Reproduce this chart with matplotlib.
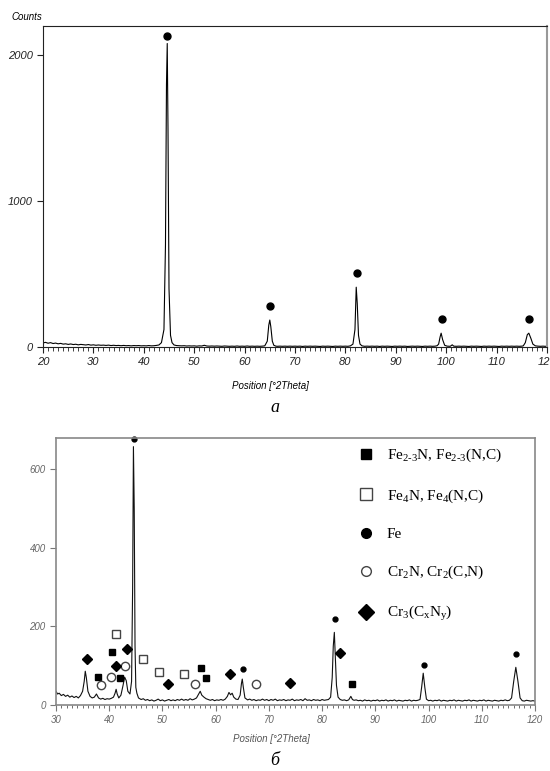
import matplotlib
matplotlib.use("Agg")
import matplotlib.pyplot as plt
from matplotlib.ticker import MultipleLocator, FixedLocator
from matplotlib.lines import Line2D

plt.rcParams["mathtext.fontset"] = "custom"
plt.rcParams["mathtext.rm"] = "Liberation Serif"
plt.rcParams["mathtext.it"] = "Liberation Serif:italic"

# ---------- data: panel a (Counts vs 2Theta) ----------
top_x = [20.0, 20.5, 21, 21.5, 22, 22.5, 23, 23.5, 24, 24.5, 25, 25.5, 26, 26.5, 27, 27.5, 28, 28.5, 29, 29.5,
         30, 30.5, 31, 31.5, 32, 32.5, 33, 33.5, 34, 34.5, 35, 35.5, 36, 36.5, 37, 37.5, 38, 38.5, 39, 39.5,
         40, 40.5, 41, 41.5, 42, 42.5, 43, 43.5, 44, 44.3, 44.5, 44.65, 44.8, 45, 45.3, 45.6, 46, 46.5, 47, 47.5,
         48, 48.5, 49, 49.5, 50, 50.5, 51, 51.5, 52, 52.5, 53, 53.5, 54, 54.5, 55, 55.5, 56, 56.5, 57, 57.5,
         58, 58.5, 59, 59.5, 60, 60.5, 61, 61.5, 62, 62.5, 63, 63.5, 64, 64.5, 64.8, 65.0, 65.2, 65.5, 65.8, 66.2,
         66.5, 67, 67.5, 68, 68.5, 69, 69.5, 70, 70.5, 71, 71.5, 72, 72.5, 73, 73.5, 74, 74.5, 75, 75.5, 76,
         76.5, 77, 77.5, 78, 78.5, 79, 79.5, 80, 80.5, 81, 81.5, 81.9, 82.15, 82.35, 82.6, 82.9, 83.3, 83.8, 84.3, 84.8,
         85.3, 85.8, 86.3, 86.8, 87.3, 87.8, 88.3, 88.8, 89.3, 89.8, 90.3, 90.8, 91.3, 91.8, 92.3, 92.8, 93.3, 93.8, 94.3, 94.8,
         95.3, 95.8, 96.3, 96.8, 97.3, 97.8, 98.2, 98.5, 98.8, 99.0, 99.3, 99.7, 100.2, 100.8, 101.2, 101.5, 102, 102.5, 103, 103.5,
         104, 104.5, 105, 105.5, 106, 106.5, 107, 107.5, 108, 108.5, 109, 109.5, 110, 110.5, 111, 111.5, 112, 112.5, 113, 113.5,
         114, 114.5, 115, 115.3, 115.7, 116.1, 116.4, 116.8, 117.2, 117.7, 118.2, 118.7, 119.2, 119.6, 120]
top_y = [28, 32, 26, 30, 24, 27, 22, 25, 20, 22, 18, 21, 17, 19, 15, 18, 16, 14, 17, 13,
         15, 12, 14, 12, 13, 11, 13, 10, 12, 10, 11, 9, 11, 9, 10, 8, 10, 9, 10, 8,
         9, 8, 10, 8, 9, 11, 14, 30, 120, 700, 1800, 2080, 1500, 400, 80, 30, 14, 10, 9, 8,
         9, 7, 8, 7, 8, 6, 8, 7, 12, 7, 6, 7, 6, 7, 6, 5, 7, 6, 5, 6,
         5, 7, 5, 6, 5, 7, 5, 6, 5, 6, 5, 6, 8, 40, 150, 185, 140, 40, 12, 6,
         5, 6, 5, 6, 5, 6, 5, 6, 5, 6, 4, 6, 5, 6, 5, 6, 5, 4, 6, 5,
         6, 5, 4, 6, 5, 6, 5, 6, 5, 8, 20, 120, 410, 300, 80, 20, 8, 5, 6, 5,
         6, 5, 6, 4, 6, 5, 6, 5, 4, 6, 5, 6, 5, 6, 4, 5, 6, 5, 6, 5,
         4, 6, 5, 6, 5, 6, 9, 20, 70, 95, 50, 12, 6, 5, 15, 6, 5, 6, 5, 6,
         5, 4, 6, 5, 6, 5, 4, 6, 5, 6, 5, 6, 5, 4, 6, 5, 6, 5, 6, 5,
         6, 5, 6, 8, 30, 85, 95, 60, 20, 8, 6, 5, 6, 5, 5]
top_fe_x = [44.6, 65.0, 82.3, 99.1, 116.4]
top_fe_y = [2130, 280, 505, 190, 190]

# ---------- data: panel b ----------
bot_x = [30.0, 30.3, 30.6, 31, 31.4, 31.8, 32.2, 32.6, 33, 33.4, 33.8, 34.2, 34.6, 35.0, 35.3, 35.5, 35.7, 36.0, 36.4, 36.8,
         37.2, 37.6, 38.0, 38.4, 38.8, 39.2, 39.6, 40.0, 40.4, 40.8, 41.1, 41.3, 41.5, 41.8, 42.2, 42.6, 42.9, 43.2, 43.5, 43.9,
         44.2, 44.4, 44.55, 44.7, 44.85, 45.0, 45.2, 45.5, 46.0, 46.4, 46.8, 47.2, 47.6, 48, 48.4, 48.8, 49.2, 49.6, 50, 50.4,
         50.8, 51.2, 51.6, 52, 52.4, 52.8, 53.2, 53.6, 54, 54.4, 54.8, 55.2, 55.6, 56, 56.4, 56.8, 57.1, 57.4, 57.8, 58.2,
         58.6, 59, 59.4, 59.8, 60.2, 60.6, 61, 61.4, 61.8, 62.2, 62.5, 62.8, 63.1, 63.4, 63.8, 64.2, 64.6, 64.85, 65.0, 65.2,
         65.5, 66, 66.4, 66.8, 67.2, 67.6, 68, 68.4, 68.8, 69.2, 69.6, 70, 70.4, 70.8, 71.2, 71.6, 72, 72.4, 72.8, 73.2,
         73.6, 74, 74.4, 74.8, 75.2, 75.6, 76, 76.4, 76.8, 77.2, 77.6, 78, 78.4, 78.8, 79.2, 79.6, 80, 80.4, 80.8, 81.2,
         81.6, 81.9, 82.1, 82.3, 82.5, 82.7, 83, 83.4, 83.8, 84.2, 84.6, 85, 85.4, 85.7, 86, 86.4, 86.8, 87.2, 87.6, 88,
         88.4, 88.8, 89.2, 89.6, 90, 90.4, 90.8, 91.2, 91.6, 92, 92.4, 92.8, 93.2, 93.6, 94, 94.4, 94.8, 95.2, 95.6, 96,
         96.4, 96.8, 97.2, 97.6, 98, 98.4, 98.7, 99.0, 99.3, 99.6, 100, 100.4, 100.8, 101.2, 101.6, 102, 102.4, 102.8, 103.2, 103.6,
         104, 104.4, 104.8, 105.2, 105.6, 106, 106.4, 106.8, 107.2, 107.6, 108, 108.4, 108.8, 109.2, 109.6, 110, 110.4, 110.8, 111.2, 111.6,
         112, 112.4, 112.8, 113.2, 113.6, 114, 114.4, 114.8, 115.2, 115.6, 116.0, 116.4, 116.8, 117.2, 117.6, 118, 118.4, 118.8, 119.2, 119.6,
         120]
bot_y = [35, 28, 30, 24, 27, 22, 25, 20, 23, 19, 22, 18, 24, 35, 60, 86, 70, 35, 22, 18,
         20, 28, 18, 15, 17, 14, 16, 15, 17, 20, 30, 40, 28, 18, 25, 50, 71, 62, 35, 28,
         60, 300, 658, 500, 150, 45, 30, 18, 14, 16, 12, 14, 11, 13, 10, 12, 15, 11, 13, 10,
         12, 14, 11, 13, 11, 14, 12, 15, 12, 14, 12, 16, 13, 15, 18, 28, 35, 25, 20, 16,
         14, 12, 14, 11, 13, 12, 14, 12, 15, 22, 32, 26, 30, 20, 15, 14, 25, 55, 66, 45,
         18, 13, 15, 12, 14, 11, 13, 12, 15, 12, 14, 11, 14, 12, 15, 11, 13, 12, 14, 11,
         13, 12, 15, 11, 13, 12, 14, 11, 16, 12, 13, 11, 14, 12, 13, 11, 14, 12, 13, 14,
         20, 70, 150, 185, 120, 50, 20, 14, 12, 13, 11, 13, 22, 14, 12, 13, 11, 12, 10, 13,
         11, 12, 10, 12, 11, 13, 10, 12, 11, 13, 10, 12, 11, 13, 10, 12, 11, 10, 12, 11,
         13, 10, 12, 11, 12, 14, 45, 81, 45, 15, 11, 12, 10, 12, 11, 13, 10, 12, 11, 10,
         12, 11, 13, 10, 12, 11, 10, 12, 11, 13, 10, 12, 11, 10, 12, 11, 13, 10, 12, 11,
         10, 12, 11, 10, 12, 11, 13, 11, 12, 18, 60, 96, 60, 18, 11, 10, 12, 11, 10, 11,
         10]

# phase markers (2Theta, height on chart)
fe23_x = [37.8, 40.5, 42.0, 57.3, 58.1, 85.7]
fe23_y = [72, 136, 68, 95, 69, 53]
fe4_x = [41.3, 46.4, 49.3, 54.1]
fe4_y = [180, 117, 85, 79]
fe_x = [44.6, 65.2, 82.5, 99.1, 116.5]
fe_y = [678, 92, 219, 103, 131]
cr2_x = [38.4, 40.3, 42.9, 56.1, 67.5]
cr2_y = [51, 72, 100, 53, 54]
cr3_x = [35.9, 41.2, 43.3, 51.0, 62.7, 74.0, 83.4]
cr3_y = [116, 99, 142, 54, 80, 56, 132]

legend_labels = [r"Fe$_{\mathrm{2\text{-}3}}$N, Fe$_{\mathrm{2\text{-}3}}$(N,C)",
                 r"Fe$_{\mathrm{4}}$N, Fe$_{\mathrm{4}}$(N,C)",
                 "Fe",
                 r"Cr$_{\mathrm{2}}$N, Cr$_{\mathrm{2}}$(C,N)",
                 r"Cr$_{\mathrm{3}}$(C$_{\mathrm{x}}$N$_{\mathrm{y}}$)"]

tick_font = dict(family="Liberation Sans", style="italic")

fig = plt.figure(figsize=(5.5, 7.71), dpi=100)

# ---------- panel a ----------
ax1 = fig.add_axes([0.0782, 0.5499, 0.9163, 0.4164])
ax1.plot(top_x, top_y, color="black", lw=0.8)
ax1.plot(top_fe_x, top_fe_y, "o", color="black", ms=5)
ax1.set_xlim(20, 120)
ax1.set_ylim(0, 2200)
ax1.xaxis.set_major_locator(MultipleLocator(10))
ax1.xaxis.set_minor_locator(MultipleLocator(1))
ax1.yaxis.set_major_locator(FixedLocator([0, 1000, 2000]))
for s in ["left", "top", "bottom"]:
    ax1.spines[s].set_color("#222222")
ax1.spines["right"].set_color("#999999")
ax1.spines["right"].set_linewidth(1.5)
ax1.tick_params(axis="both", which="major", length=4, width=0.8, color="#222222")
ax1.tick_params(axis="x", which="minor", length=3, width=0.6, color="#222222")
for lab in ax1.get_xticklabels() + ax1.get_yticklabels():
    lab.set(**tick_font, fontsize=8, color="#222222")
ax1.text(-0.063, 1.012, "Counts", transform=ax1.transAxes, ha="left", va="bottom",
         fontsize=7, **tick_font)
ax1.set_xlabel("Position [°2Theta]", fontsize=7, **tick_font)
ax1.xaxis.set_label_coords(0.452, -0.105)
fig.text(0.5, 0.472, "a", ha="center", va="center", family="Liberation Serif",
         style="italic", fontsize=13)

# ---------- panel b ----------
ax2 = fig.add_axes([0.1018, 0.0856, 0.8709, 0.3463])
ax2.plot(bot_x, bot_y, color="#111111", lw=0.8)
ax2.plot(fe23_x, fe23_y, "s", color="black", ms=5, ls="none")
ax2.plot(fe4_x, fe4_y, "s", mfc="white", mec="#444444", mew=1.0, ms=6, ls="none")
ax2.plot(fe_x, fe_y, "o", color="black", ms=3.5, ls="none", clip_on=False)
ax2.plot(cr2_x, cr2_y, "o", mfc="white", mec="#444444", mew=1.0, ms=6, ls="none")
ax2.plot(cr3_x, cr3_y, "D", color="black", ms=5.5, ls="none")
ax2.set_xlim(30, 120)
ax2.set_ylim(0, 680)
ax2.xaxis.set_major_locator(MultipleLocator(10))
ax2.xaxis.set_minor_locator(MultipleLocator(1))
ax2.yaxis.set_major_locator(FixedLocator([0, 200, 400, 600]))
for s in ax2.spines.values():
    s.set_color("#888888")
    s.set_linewidth(1.2)
ax2.tick_params(axis="both", which="major", length=4, width=0.8, color="#777777")
ax2.tick_params(axis="x", which="minor", length=2.5, width=0.6, color="#555555")
for lab in ax2.get_xticklabels() + ax2.get_yticklabels():
    lab.set(**tick_font, fontsize=7, color="#666666")
ax2.set_xlabel("Position [°2Theta]", fontsize=7, color="#555555", **tick_font)
ax2.xaxis.set_label_coords(0.449, -0.11)

handles = [Line2D([], [], marker="s", color="black", ls="none", ms=7),
           Line2D([], [], marker="s", mfc="white", mec="#444444", mew=1.0, ls="none", ms=8),
           Line2D([], [], marker="o", color="black", ls="none", ms=7),
           Line2D([], [], marker="o", mfc="white", mec="#444444", mew=1.0, ls="none", ms=7),
           Line2D([], [], marker="D", color="black", ls="none", ms=8)]
ax2.legend(handles, legend_labels, loc="upper left", bbox_to_anchor=(0.608, 1.012),
           frameon=False, handlelength=0.8, handletextpad=1.0, labelspacing=1.5,
           borderaxespad=0.4, prop=dict(family="Liberation Serif", size=11))
fig.text(0.5, 0.014, "б", ha="center", va="center", family="Liberation Serif",
         style="italic", fontsize=13)

fig.savefig("out.png", dpi=100)
